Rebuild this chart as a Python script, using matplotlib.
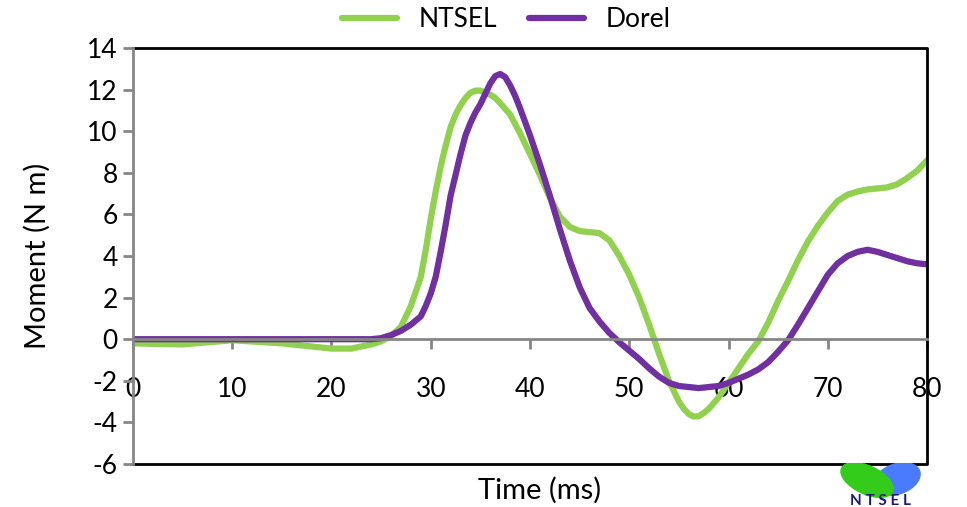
import matplotlib.pyplot as plt
from matplotlib.lines import Line2D
from matplotlib.patches import Ellipse

plt.rcParams['font.family'] = ['Lato', 'DejaVu Sans']
plt.rcParams['axes.unicode_minus'] = False

# time axis (ms)
t_ntsel = [0, 5, 10, 15, 18, 20, 22, 24, 25, 26, 27, 28, 28.5, 29, 29.5, 30, 30.5, 31,
           31.5, 32, 32.5, 33, 33.5, 34, 34.5, 35, 35.5, 36, 36.5, 37, 38, 39, 40, 41,
           42, 43, 44, 45, 46, 47, 48, 49, 50, 51, 52, 53, 54, 55, 55.5, 56, 56.5, 57,
           57.5, 58, 59, 60, 61, 62, 63, 64, 65, 66, 67, 68, 69, 70, 71, 72, 73, 74, 75,
           76, 77, 78, 79, 80]
ntsel = [-0.2, -0.25, -0.05, -0.2, -0.35, -0.45, -0.45, -0.25, -0.1, 0.15, 0.6, 1.6,
         2.3, 3.0, 4.3, 5.8, 7.1, 8.3, 9.3, 10.2, 10.8, 11.25, 11.6, 11.85, 11.95, 11.95,
         11.85, 11.75, 11.6, 11.35, 10.8, 9.9, 8.9, 7.9, 6.8, 5.9, 5.4, 5.2, 5.15, 5.1,
         4.75, 4.0, 3.1, 2.0, 0.7, -0.7, -2.0, -3.0, -3.35, -3.6, -3.72, -3.7, -3.55,
         -3.35, -2.8, -2.1, -1.4, -0.7, -0.1, 0.8, 1.85, 2.8, 3.8, 4.7, 5.45, 6.1, 6.65,
         6.95, 7.1, 7.2, 7.25, 7.3, 7.45, 7.75, 8.1, 8.6]

t_dorel = [0, 5, 10, 15, 20, 22, 24, 25, 26, 27, 28, 29, 29.5, 30, 30.5, 31, 31.5, 32,
           32.5, 33, 33.5, 34, 34.5, 35, 35.5, 36, 36.5, 37, 37.5, 38, 38.5, 39, 40, 41,
           42, 43, 44, 45, 46, 47, 48, 49, 50, 51, 52, 53, 54, 55, 56, 57, 58, 59, 60,
           61, 62, 63, 64, 65, 66, 67, 68, 69, 70, 71, 72, 73, 74, 75, 76, 77, 78, 79, 80]
dorel = [0, 0, 0, 0, 0, 0, 0.0, 0.05, 0.2, 0.4, 0.7, 1.1, 1.6, 2.2, 3.0, 4.2, 5.5, 6.9,
         7.9, 8.9, 9.8, 10.4, 10.9, 11.3, 11.8, 12.3, 12.65, 12.75, 12.6, 12.2, 11.7,
         11.1, 9.8, 8.4, 6.9, 5.3, 3.8, 2.5, 1.5, 0.85, 0.3, -0.15, -0.55, -0.95, -1.4,
         -1.8, -2.1, -2.25, -2.3, -2.35, -2.3, -2.25, -2.1, -1.9, -1.7, -1.45, -1.1,
         -0.6, -0.05, 0.7, 1.5, 2.3, 3.1, 3.65, 4.0, 4.2, 4.3, 4.2, 4.05, 3.9, 3.75,
         3.65, 3.6]

x_ticks = list(range(0, 81, 10))
y_ticks = list(range(-6, 15, 2))

fig = plt.figure(figsize=(9.67, 5.07), dpi=100)
ax = fig.add_axes([0.1375, 0.0848, 0.8212, 0.8205])

ax.plot(t_ntsel, ntsel, color='#92d050', lw=4.5, label='NTSEL',
        solid_capstyle='round', solid_joinstyle='round')
ax.plot(t_dorel, dorel, color='#7030a0', lw=4.5, label='Dorel',
        solid_capstyle='round', solid_joinstyle='round')

ax.set_xlim(0, 80)
ax.set_ylim(-6, 14)
ax.set_xticks(x_ticks)
ax.set_yticks(y_ticks)

# x axis crosses at zero, gray, like excel
ax.spines['bottom'].set_position(('data', 0))
ax.spines['bottom'].set_color('#868686')
ax.spines['bottom'].set_linewidth(2)
ax.spines['left'].set_color('#868686')
ax.spines['left'].set_linewidth(2)
ax.spines['top'].set_visible(False)
ax.spines['right'].set_visible(False)
ax.tick_params(axis='x', direction='out', length=7, width=2, color='#868686',
               labelsize=19, pad=20)
ax.tick_params(axis='y', direction='out', length=7, width=2, color='#868686',
               labelsize=19, pad=4)

# black plot area border
ax.add_line(Line2D([0, 1, 1, 0], [1, 1, 0, 0], transform=ax.transAxes,
                   color='black', lw=2, clip_on=False))

ax.set_ylabel('Moment (N m)', fontsize=21, labelpad=26)
fig.text(0.558, 0.033, 'Time (ms)', fontsize=21, ha='center', va='center')

ax.legend(loc='lower center', bbox_to_anchor=(0.47, 1.0), ncol=2, frameon=False,
          fontsize=19, handlelength=2.1, columnspacing=1.2, borderaxespad=0.2)

# logo at bottom right
lax = fig.add_axes([825 / 967, 0, 110 / 967, 44 / 507])
lax.set_xlim(0, 110)
lax.set_ylim(0, 44)
lax.axis('off')
lax.add_patch(Ellipse((72, 28), 48, 30, angle=20, color='#4a7bff'))
lax.add_patch(Ellipse((42, 27), 56, 28, angle=-25, color='#33cc1a'))
lax.text(55, 6, 'N T S E L', color='#1a1a6e', fontsize=11, fontweight='bold',
         ha='center', va='center')

fig.savefig('out.png', dpi=100)
